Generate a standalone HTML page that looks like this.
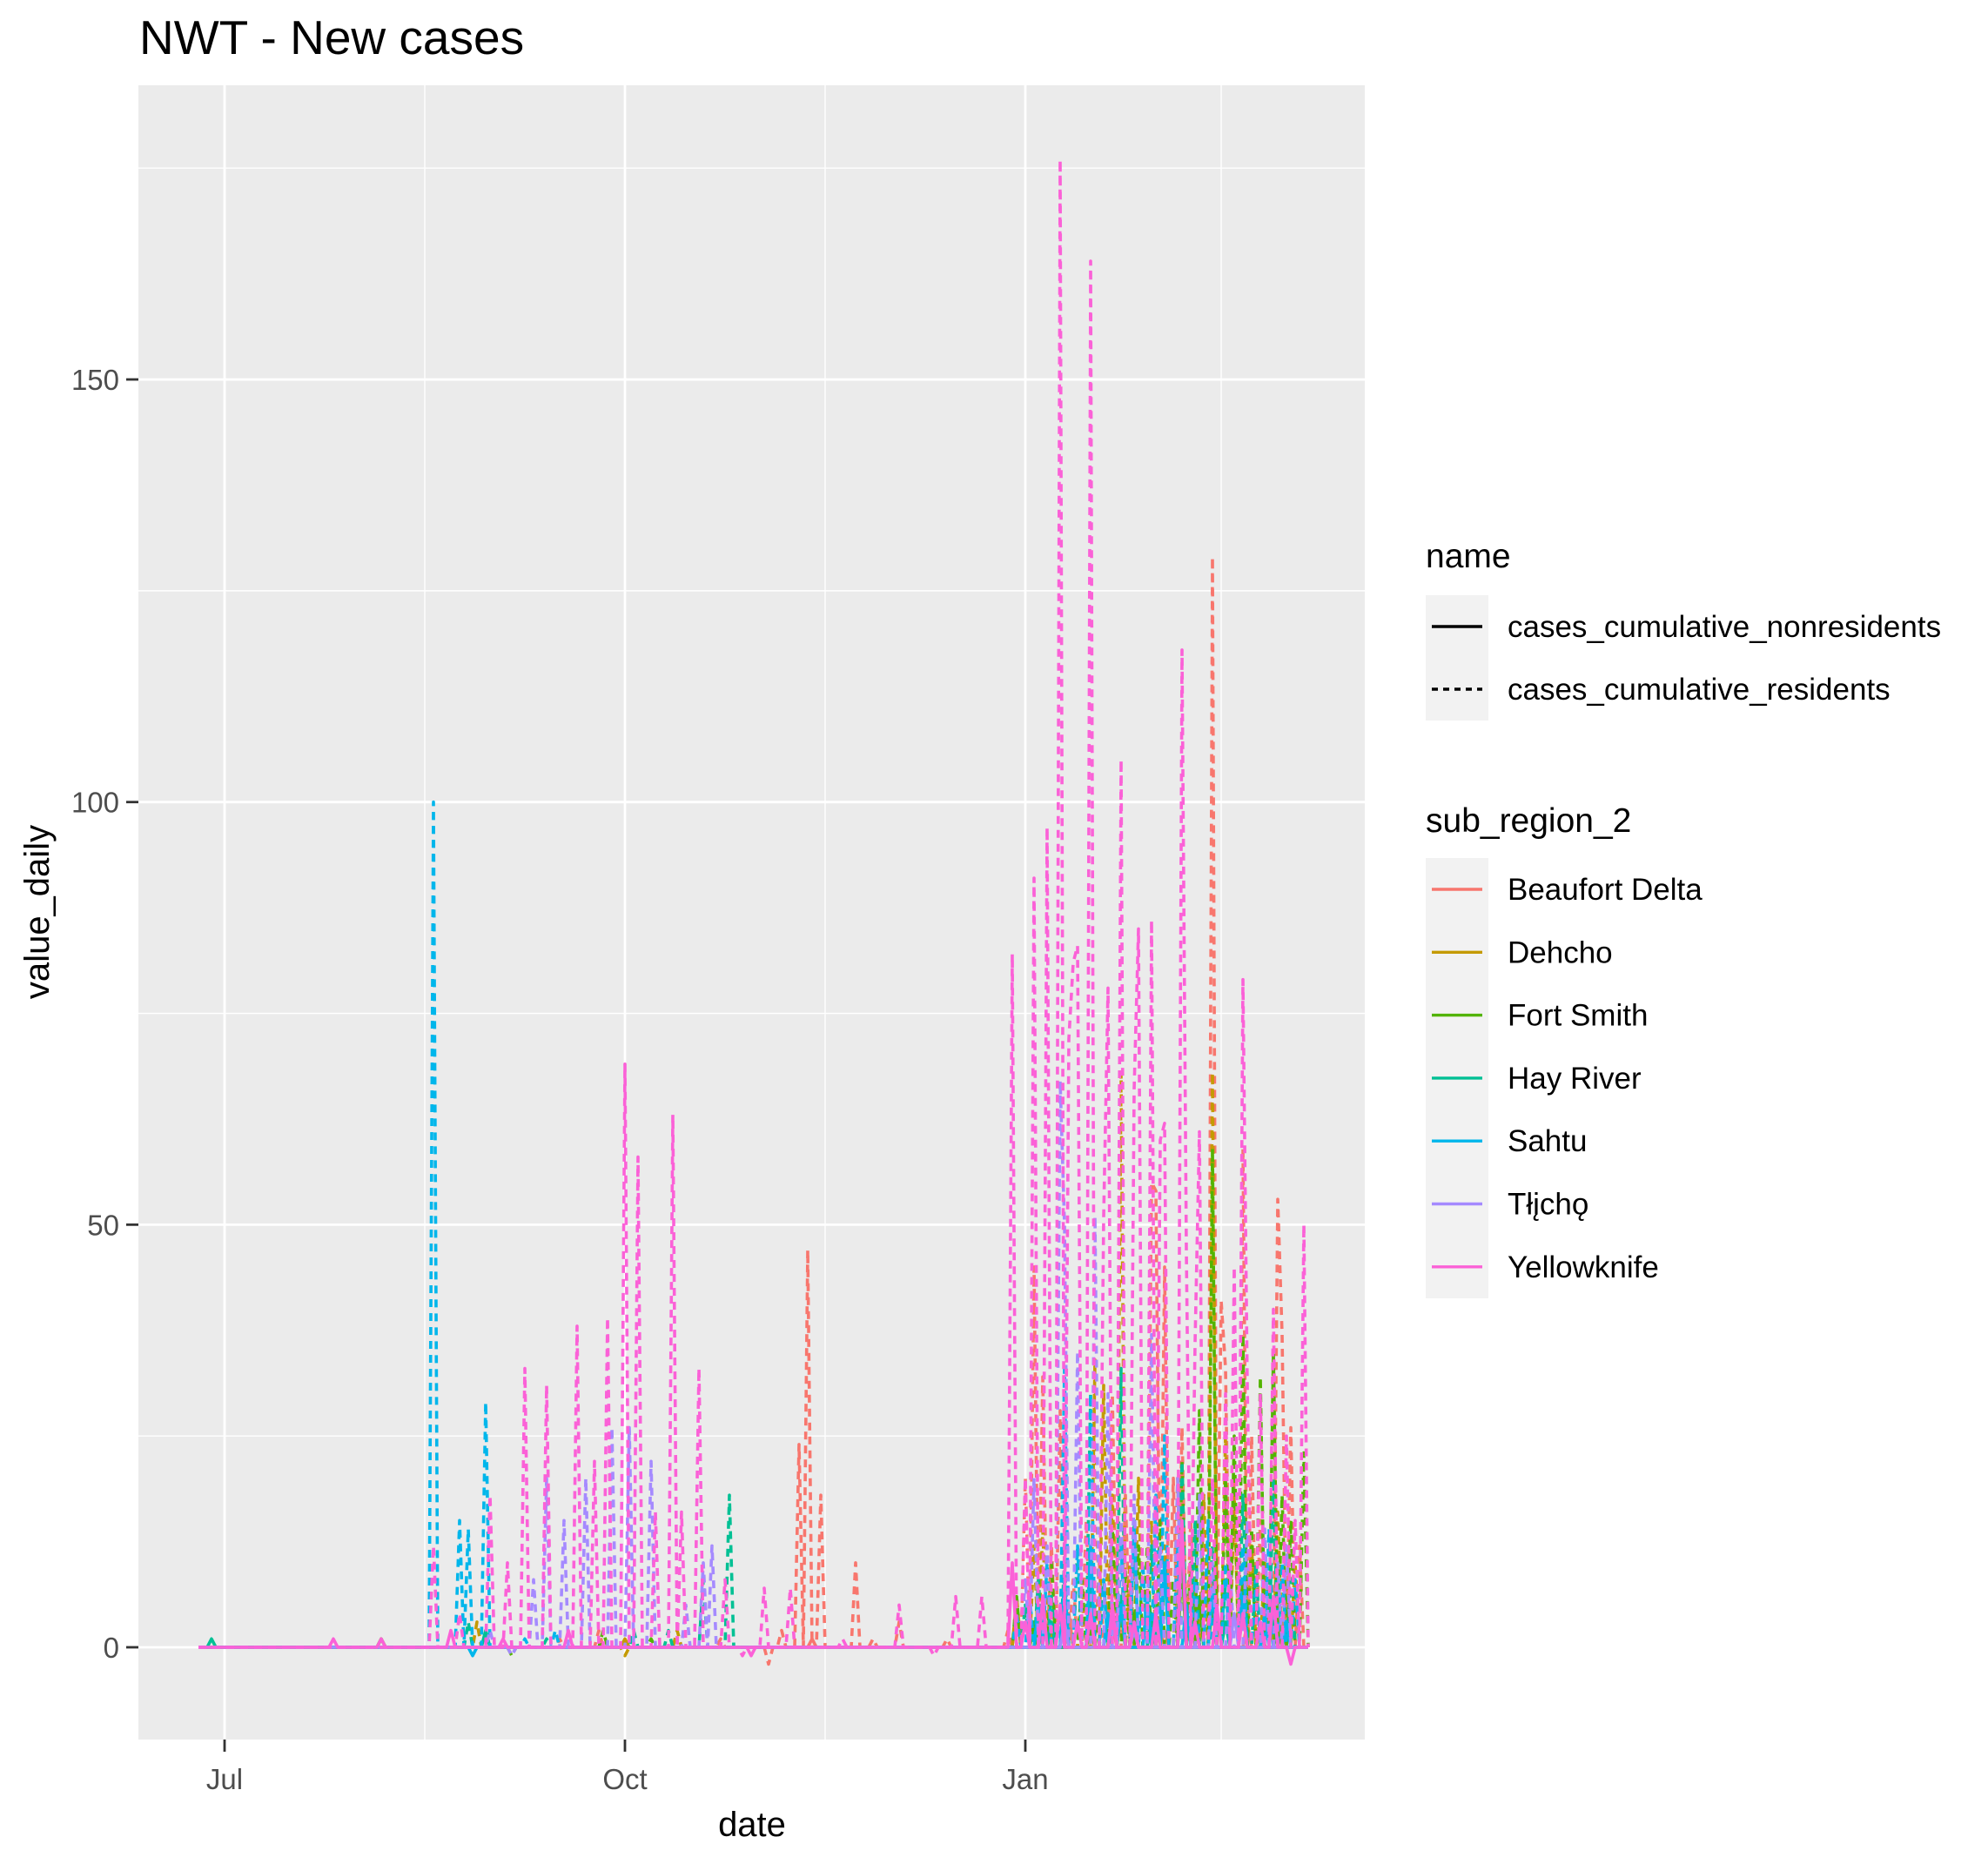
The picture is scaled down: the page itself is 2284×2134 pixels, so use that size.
<!DOCTYPE html>
<html><head><meta charset="utf-8"><style>
html,body{margin:0;padding:0;background:#fff;}
svg{display:block;font-family:"Liberation Sans",Arial,sans-serif;}
</style></head><body>
<svg id="chart" width="2284" height="2134" viewBox="0 0 2284 2134" xmlns="http://www.w3.org/2000/svg">
<rect width="2284" height="2134" fill="#fff"/>
<text x="160" y="62" font-size="55" fill="#000">NWT - New cases</text>
<rect x="159" y="98" width="1409" height="1901" fill="#ebebeb"/>
<g id="grid"></g>
<g id="series"></g>
<g id="axes"></g>
<text x="864" y="2110" font-size="40" text-anchor="middle" fill="#000">date</text>
<text transform="translate(56,1048) rotate(-90)" font-size="40" text-anchor="middle" fill="#000">value_daily</text>
<g id="legend"></g>
</svg>
<script>
// ---- data (day index 0 = Jun 25; Jan 1 = index 190) ----
const regions = ["Beaufort Delta","Dehcho","Fort Smith","Hay River","Sahtu","Tłįchǫ","Yellowknife"];
const regionColors = ["#F8766D","#C49A00","#53B400","#00C094","#00B6EB","#A58AFF","#FB61D7"];
const seriesNames = ["cases_cumulative_nonresidents","cases_cumulative_residents"];
const nDays = 256;
const xTickLabels = ["Jul","Oct","Jan"];
const xTickDays = [6,98,190];
const yTickLabels = ["0","50","100","150"];
const yTickValues = [0,50,100,150];

const beaufortResDays = [83,92,120,131,134,138,140,143,151,155,161,172,186,188,190,192,194,196,198,201,204,207,210,213,215,219,220,222,224,226,228,231,233,235,236,238,240,242,244,246,248,249,251,253];
const beaufortResVals = [1,2,1,-2,2,24,47,18,10,1,3,1,2,5,20,45,32,12,28,8,15,10,30,18,12,55,54,45,20,26,15,10,129,41,33,20,59,25,15,8,53,37,26,12];
const beaufortNonDays = [141,200,210,222,233,241,249];
const beaufortNonVals = [1,4,3,2,8,3,3];
const dehchoResDays = [64,98,110,188,192,194,199,203,206,208,210,212,214,216,219,222,225,228,231,233,236,238,242,245,248,250,252];
const dehchoResVals = [3,-1,2,6,12,14,5,8,34,31,18,68,10,20,15,12,20,8,18,68,25,18,12,10,16,8,10];
const dehchoNonDays = [98,196,212,220,233,244];
const dehchoNonVals = [1,2,4,3,6,2];
const fortSmithResDays = [42,72,93,104,188,190,193,196,199,203,206,210,213,216,218,221,224,226,228,230,233,236,238,240,242,244,247,249,251,254];
const fortSmithResVals = [1,-1,2,1,6,4,3,10,6,8,5,14,9,12,12,15,8,22,10,28,59,20,25,37,14,32,35,18,15,23];
const fortSmithNonDays = [42,192,205,215,226,230,233,240,248];
const fortSmithNonVals = [1,3,2,4,10,6,5,8,4];
const hayRiverResDays = [62,80,100,108,116,122,190,193,196,199,202,205,208,212,215,219,222,226,229,233,236,240,243,247,251];
const hayRiverResVals = [3,1,2,2,8,18,5,8,6,10,12,30,8,33,15,12,10,22,15,12,8,18,10,20,8];
const hayRiverNonDays = [3,66,196,205,212,219,226,236,247];
const hayRiverNonVals = [1,2,3,8,6,4,14,3,4];
const sahtuResDays = [54,60,62,66,75,82,188,191,195,199,202,205,208,212,215,217,220,222,225,229,232,236,240,243,246,249,252];
const sahtuResVals = [100,15,14,29,1,2,4,6,10,33,12,30,8,12,14,10,18,25,12,8,15,10,12,8,14,10,8];
const sahtuNonDays = [63,193,199,205,209,212,218,222,227,233,240,245,250];
const sahtuNonVals = [-1,5,8,12,4,5,6,10,5,7,6,4,3];
const tlichoResDays = [67,72,77,80,84,89,95,99,104,112,116,118,190,192,195,198,199,202,206,209,212,215,219,221,225,230,233,237,241,245,248,250];
const tlichoResVals = [2,-1,8,20,15,20,26,26,22,5,10,12,8,20,12,67,50,35,51,30,15,18,37,12,20,18,10,10,15,14,10,12];
const tlichoNonDays = [199,215,238];
const tlichoNonVals = [3,2,4];
const yellowknifeResDays = [54,60,67,71,75,80,87,91,94,98,101,105,109,111,115,121,125,130,136,148,161,169,174,180,187,190,192,195,198,200,201,202,205,208,209,212,215,216,219,221,222,226,227,229,230,233,236,238,240,241,244,247,250,252,254];
const yellowknifeResVals = [12,4,18,10,33,31,38,22,39,69,58,16,63,16,33,8,-1,7,7,1,5,-1,6,6,82,20,91,97,176,72,81,83,164,51,78,105,66,85,86,60,62,118,47,36,61,20,30,45,79,31,30,40,25,15,50];
const yellowknifeNonDays = [31,42,58,70,85,127,187,190,194,198,202,205,210,215,220,226,229,234,240,244,247,251];
const yellowknifeNonVals = [1,1,2,1,2,-1,10,3,6,5,3,4,5,3,4,15,3,5,4,3,6,-2];

// ---- scales ----
const X0 = 258, PXDAY = 5.0;
function xScale(d){ return X0 + (d-6)*PXDAY; }
function yScale(v){ return 1893 - v*9.713; }

const NS = "http://www.w3.org/2000/svg";
function mk(tag, attrs, parent){ const e=document.createElementNS(NS,tag); for(const k in attrs) e.setAttribute(k,attrs[k]); parent.appendChild(e); return e; }

const grid = document.getElementById('grid');
[25,75,125,175].forEach(v=>{
  const l = mk('line',{x1:159,x2:1568,y1:yScale(v),y2:yScale(v),stroke:'#fff','stroke-width':1.4},grid);
  
  
});
[52,144,235].forEach(d=>{
  const l = mk('line',{x1:xScale(d),x2:xScale(d),y1:98,y2:1999,stroke:'#fff','stroke-width':1.4},grid);
  
  
});
yTickValues.forEach(v=>{
  const l = mk('line',{x1:159,x2:1568,y1:yScale(v),y2:yScale(v),stroke:'#fff','stroke-width':2.8},grid);
  
  
});
xTickDays.forEach(d=>{
  const l = mk('line',{x1:xScale(d),x2:xScale(d),y1:98,y2:1999,stroke:'#fff','stroke-width':2.8},grid);
  
  
});

const axes = document.getElementById('axes');
yTickValues.forEach((v,i)=>{
  const t = mk('line',{x1:145,x2:159,y1:yScale(v),y2:yScale(v),stroke:'#333','stroke-width':2.8},axes);
  
  
  const tx = mk('text',{x:137,y:yScale(v)+12,'font-size':33,'text-anchor':'end',fill:'#4d4d4d'},axes);
  tx.textContent = yTickLabels[i];
  
  
});
xTickDays.forEach((d,i)=>{
  const t = mk('line',{x1:xScale(d),x2:xScale(d),y1:1999,y2:2013,stroke:'#333','stroke-width':2.8},axes);
  
  
  const tx = mk('text',{x:xScale(d),y:2056,'font-size':33,'text-anchor':'middle',fill:'#4d4d4d'},axes);
  tx.textContent = xTickLabels[i];
  
  
});

const seriesData = [
  [beaufortNonDays,beaufortNonVals,beaufortResDays,beaufortResVals],
  [dehchoNonDays,dehchoNonVals,dehchoResDays,dehchoResVals],
  [fortSmithNonDays,fortSmithNonVals,fortSmithResDays,fortSmithResVals],
  [hayRiverNonDays,hayRiverNonVals,hayRiverResDays,hayRiverResVals],
  [sahtuNonDays,sahtuNonVals,sahtuResDays,sahtuResVals],
  [tlichoNonDays,tlichoNonVals,tlichoResDays,tlichoResVals],
  [yellowknifeNonDays,yellowknifeNonVals,yellowknifeResDays,yellowknifeResVals]
];
const sg = document.getElementById('series');
function buildPath(days, vals){
  const arr = new Array(nDays).fill(0);
  days.forEach((d,i)=>{ arr[d]=vals[i]; });
  return arr.map((v,i)=>(i?'L':'M')+xScale(i).toFixed(1)+','+yScale(v).toFixed(1)).join('');
}
seriesData.forEach((s,ri)=>{
  for(let k=0;k<2;k++){
    const p = mk('path',{d:buildPath(s[k*2],s[k*2+1]),fill:'none',stroke:regionColors[ri],'stroke-width':3.6,'stroke-linejoin':'round'},sg);
    if(k===1) p.setAttribute('stroke-dasharray','9,7');
    
    
  }
});

const lg = document.getElementById('legend');
const t1 = mk('text',{x:1638,y:652,'font-size':39,fill:'#000'},lg);
t1.textContent='name';


mk('rect',{x:1638,y:684,width:72,height:144,fill:'#f2f2f2'},lg);
seriesNames.forEach((n,i)=>{
  const y = 720 + i*72;
  const l = mk('line',{x1:1645,x2:1703,y1:y,y2:y,stroke:'#000','stroke-width':3.4},lg);
  if(i===1) l.setAttribute('stroke-dasharray','7,6');
  
  
  const t = mk('text',{x:1732,y:y+12,'font-size':35,fill:'#000'},lg);
  t.textContent = n;
  
  
});
const t2 = mk('text',{x:1638,y:956,'font-size':39,fill:'#000'},lg);
t2.textContent='sub_region_2';


mk('rect',{x:1638,y:986,width:72,height:506,fill:'#f2f2f2'},lg);
regions.forEach((n,i)=>{
  const y = 1022 + i*72.3;
  const l = mk('line',{x1:1645,x2:1703,y1:y,y2:y,stroke:regionColors[i],'stroke-width':3.4},lg);
  
  
  const t = mk('text',{x:1732,y:y+12,'font-size':35,fill:'#000'},lg);
  t.textContent = n;
  
  
});
</script>
</body></html>
